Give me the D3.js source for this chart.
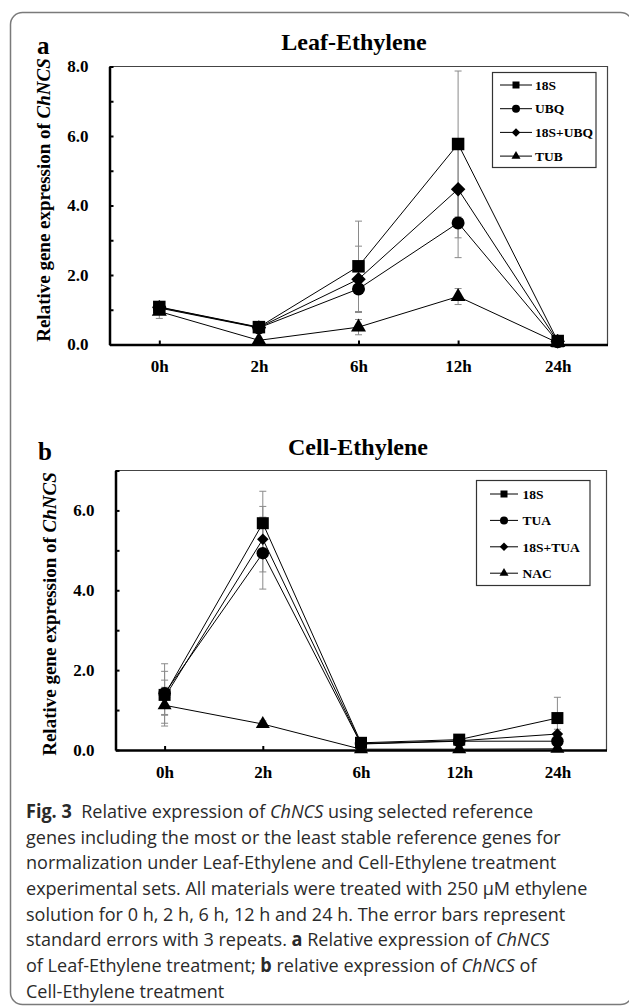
<!DOCTYPE html>
<html>
<head>
<meta charset="utf-8">
<script src="https://cdn.jsdelivr.net/npm/d3@7"></script>
<style>
body { margin: 0; background: #fff; }
svg { display: block; }
</style>
</head>
<body>
<div id="fig"></div>
<script>
"use strict";

var hours = ["0h", "2h", "6h", "12h", "24h"];
var shapes = ["square", "circle", "diamond", "triangle"];

// a: Leaf-Ethylene
var leafNames = ["18S", "UBQ", "18S+UBQ", "TUB"];
var leaf18S = [1.08, 0.50, 2.25, 5.77, 0.10];
var leafUBQ = [1.05, 0.48, 1.60, 3.50, 0.08];
var leafMix = [1.07, 0.49, 1.88, 4.47, 0.09];
var leafTUB = [0.95, 0.12, 0.50, 1.38, 0.05];
var leaf18SErr = [0.12, 0.06, 1.30, 2.10, 0.05];
var leafUBQErr = [0.10, 0.05, 0.68, 1.00, 0.04];
var leafMixErr = [0.11, 0.05, 0.95, 1.40, 0.04];
var leafTUBErr = [0.20, 0.03, 0.22, 0.23, 0.02];

// b: Cell-Ethylene
var cellNames = ["18S", "TUA", "18S+TUA", "NAC"];
var cell18S = [1.38, 5.68, 0.18, 0.26, 0.80];
var cellTUA = [1.42, 4.93, 0.15, 0.22, 0.22];
var cellMix = [1.32, 5.28, 0.16, 0.23, 0.40];
var cellNAC = [1.12, 0.65, 0.02, 0.02, 0.03];
var cell18SErr = [0.78, 0.80, 0.05, 0.06, 0.52];
var cellTUAErr = [0.55, 0.90, 0.04, 0.05, 0.08];
var cellMixErr = [0.43, 0.82, 0.04, 0.05, 0.12];
var cellNACErr = [0.45, 0.08, 0.01, 0.01, 0.01];

var captionLines = [
    [["Fig. 3", "b"], ["  Relative expression of ", ""], ["ChNCS", "i"], [" using selected reference", ""]],
    [["genes including the most or the least stable reference genes for", ""]],
    [["normalization under Leaf-Ethylene and Cell-Ethylene treatment", ""]],
    [["experimental sets. All materials were treated with 250 µM ethylene", ""]],
    [["solution for 0 h, 2 h, 6 h, 12 h and 24 h. The error bars represent", ""]],
    [["standard errors with 3 repeats. ", ""], ["a", "b"], [" Relative expression of ", ""], ["ChNCS", "i"]],
    [["of Leaf-Ethylene treatment; ", ""], ["b", "b"], [" relative expression of ", ""], ["ChNCS", "i"], [" of", ""]],
    [["Cell-Ethylene treatment", ""]]
];

var SERIF = "'Liberation Serif', 'Times New Roman', serif";

var svg = d3.select("#fig").append("svg")
    .attr("width", 629)
    .attr("height", 1008);

// rounded figure frame
svg.append("rect")
    .attr("x", 10.5).attr("y", 12.5)
    .attr("width", 622).attr("height", 992)
    .attr("rx", 12)
    .attr("fill", "none")
    .attr("stroke", "#7a7a7a")
    .attr("stroke-width", 1.5);

function symbolPath(shape, d) {
    // d = visual width of the marker
    if (shape === "square") return d3.symbol(d3.symbolSquare, d * d)();
    if (shape === "circle") return d3.symbol(d3.symbolCircle, Math.PI * d * d / 4)();
    if (shape === "diamond") return d3.symbol(d3.symbolSquare, d * d / 2)();
    return d3.symbol(d3.symbolTriangle, Math.sqrt(3) / 4 * d * d)();
}

function drawPanel(p) {
    var x = d3.scalePoint().domain(hours).range([p.left, p.right]).padding(0.5);
    var y = d3.scaleLinear().domain([0, p.max]).range([p.bottom, p.top]);

    var g = svg.append("g").attr("class", "panel-" + p.letter);

    // thin frame top + right
    g.append("path")
        .attr("d", "M" + p.left + "," + p.top + "H" + p.right + "V" + p.bottom)
        .attr("fill", "none")
        .attr("stroke", "#444")
        .attr("stroke-width", 1.2);

    var yAxis = d3.axisLeft(y)
        .tickValues(d3.range(0, p.max + 1))
        .tickSizeInner(-4).tickSizeOuter(0).tickPadding(21)
        .tickFormat(function (d) { return d % 2 === 0 ? d.toFixed(1) : ""; });

    var gy = g.append("g")
        .attr("transform", "translate(" + p.left + ",0)")
        .call(yAxis);

    var xAxis = d3.axisBottom(x)
        .tickSizeInner(-4).tickSizeOuter(0).tickPadding(15.5);

    var gx = g.append("g")
        .attr("transform", "translate(0," + p.bottom + ")")
        .call(xAxis);

    [gy, gx].forEach(function (ax) {
        ax.attr("font-family", SERIF).attr("font-size", 17).attr("font-weight", "bold");
        ax.select(".domain").attr("stroke", "#000").attr("stroke-width", 2.5);
        ax.selectAll(".tick line").attr("stroke", "#000").attr("stroke-width", 2);
        ax.selectAll(".tick text").attr("fill", "#000");
    });

    // y axis title
    var yt = g.append("text")
        .attr("transform", "translate(" + p.labelX + "," + p.labelY + ") rotate(-90)")
        .attr("text-anchor", "middle")
        .attr("font-family", SERIF)
        .attr("font-weight", "bold")
        .attr("font-size", 19);
    yt.append("tspan").text("Relative gene expression of ");
    yt.append("tspan").attr("font-style", "italic").text("ChNCS");

    g.append("text")
        .attr("x", p.titleX).attr("y", p.titleY)
        .attr("text-anchor", "middle")
        .attr("font-family", SERIF).attr("font-weight", "bold").attr("font-size", 24)
        .text(p.title);

    g.append("text")
        .attr("x", p.letterX).attr("y", p.letterY)
        .attr("font-family", SERIF).attr("font-weight", "bold").attr("font-size", 25)
        .text(p.letter);

    var points = [];
    p.values.forEach(function (vals, s) {
        vals.forEach(function (v, i) {
            points.push({ s: s, h: hours[i], v: v, e: p.errors[s][i] });
        });
    });

    // error bars
    var eb = g.append("g").attr("class", "errors")
        .attr("stroke", "#8a8a8a").attr("stroke-width", 1)
        .selectAll("g").data(points).join("g");
    eb.append("line")
        .attr("x1", function (d) { return x(d.h); })
        .attr("x2", function (d) { return x(d.h); })
        .attr("y1", function (d) { return y(Math.max(0, d.v - d.e)); })
        .attr("y2", function (d) { return y(d.v + d.e); });
    eb.append("line")
        .attr("x1", function (d) { return x(d.h) - 3.5; })
        .attr("x2", function (d) { return x(d.h) + 3.5; })
        .attr("y1", function (d) { return y(d.v + d.e); })
        .attr("y2", function (d) { return y(d.v + d.e); });
    eb.append("line")
        .attr("x1", function (d) { return x(d.h) - 3.5; })
        .attr("x2", function (d) { return x(d.h) + 3.5; })
        .attr("y1", function (d) { return y(Math.max(0, d.v - d.e)); })
        .attr("y2", function (d) { return y(Math.max(0, d.v - d.e)); });

    var line = d3.line()
        .x(function (d, i) { return x(hours[i]); })
        .y(function (d) { return y(d); });

    g.append("g").attr("class", "lines")
        .selectAll("path").data(p.values).join("path")
        .attr("d", line)
        .attr("fill", "none")
        .attr("stroke", "#000")
        .attr("stroke-width", 1);

    g.append("g").attr("class", "markers")
        .selectAll("path").data(points).join("path")
        .attr("d", function (d) { return symbolPath(shapes[d.s], p.sizes[d.s]); })
        .attr("transform", function (d) {
            return "translate(" + x(d.h) + "," + y(d.v) + ")" + (shapes[d.s] === "diamond" ? " rotate(45)" : "");
        })
        .attr("fill", "#000");

    // legend
    var L = p.legend;
    var lg = g.append("g").attr("class", "legend");
    lg.append("rect")
        .attr("x", L.x).attr("y", L.y).attr("width", L.w).attr("height", L.h)
        .attr("fill", "#fff").attr("stroke", "#333").attr("stroke-width", 1.2);
    var row = lg.selectAll("g.row").data(p.names).join("g")
        .attr("class", "row")
        .attr("transform", function (d, i) { return "translate(0," + (L.row0 + i * L.step) + ")"; });
    row.append("line")
        .attr("x1", L.line0).attr("x2", L.line1)
        .attr("stroke", "#000").attr("stroke-width", 1);
    row.append("path")
        .attr("d", function (d, i) { return symbolPath(shapes[i], p.legendSizes[i]); })
        .attr("transform", function (d, i) {
            return "translate(" + (L.line0 + L.line1) / 2 + ",0)" + (shapes[i] === "diamond" ? " rotate(45)" : "");
        });
    row.append("text")
        .attr("x", L.textX).attr("dy", "0.35em")
        .attr("font-family", SERIF).attr("font-weight", "bold").attr("font-size", 13.5)
        .text(function (d) { return d; });
}

drawPanel({
    letter: "a", title: "Leaf-Ethylene", names: leafNames,
    values: [leaf18S, leafUBQ, leafMix, leafTUB],
    errors: [leaf18SErr, leafUBQErr, leafMixErr, leafTUBErr],
    max: 8, left: 109.5, right: 607.5, top: 66.5, bottom: 344.5,
    titleX: 354, titleY: 50, letterX: 37, letterY: 54, labelX: 50, labelY: 200,
    sizes: [12.5, 13, 14.5, 15],
    legendSizes: [7, 8, 8.5, 9],
    legend: { x: 492.5, y: 72.5, w: 103.5, h: 95, row0: 85, step: 23.7, line0: 500, line1: 532, textX: 535 }
});

drawPanel({
    letter: "b", title: "Cell-Ethylene", names: cellNames,
    values: [cell18S, cellTUA, cellMix, cellNAC],
    errors: [cell18SErr, cellTUAErr, cellMixErr, cellNACErr],
    max: 7, left: 115.5, right: 606.5, top: 470.5, bottom: 750,
    titleX: 358, titleY: 455, letterX: 38, letterY: 460, labelX: 56, labelY: 614,
    sizes: [12, 12.5, 11.5, 14],
    legendSizes: [7, 8, 8.5, 9],
    legend: { x: 476.5, y: 480.5, w: 113.5, h: 105, row0: 494, step: 26.4, line0: 490, line1: 518, textX: 522.5 }
});

// caption
var cap = svg.append("g").attr("class", "caption");
var capText = cap.selectAll("text").data(captionLines).join("text")
    .attr("x", 0)
    .attr("y", function (d, i) { return 818 + i * 25.7; })
    .attr("font-family", "'Open Sans', 'Noto Sans', sans-serif")
    .attr("font-size", 19)
    .attr("fill", "#2a2a2a")
    .style("white-space", "pre");
capText.selectAll("tspan").data(function (d) { return d; }).join("tspan")
    .attr("font-weight", function (d) { return d[1] === "b" ? "bold" : null; })
    .attr("font-style", function (d) { return d[1] === "i" ? "italic" : null; })
    .text(function (d) { return d[0]; });

// squeeze to match the narrow caption face: widest line spans x 26..588
var widest = d3.max(capText.nodes(), function (n) { return n.getComputedTextLength(); });
cap.attr("transform", "translate(26,0) scale(" + (562 / widest) + ",1)");
</script>
</body>
</html>
